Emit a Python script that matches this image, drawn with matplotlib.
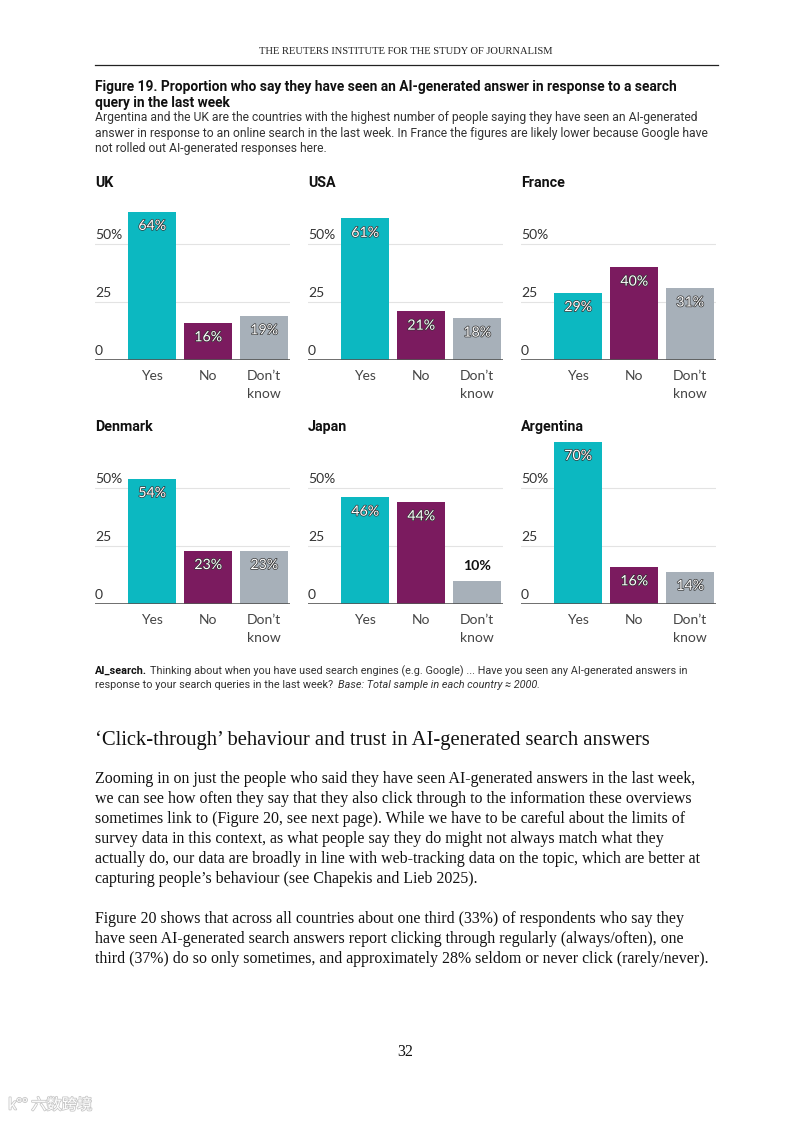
"""Figure 19 page: seen AI-generated answers in search, by country."""

import matplotlib
matplotlib.use('Agg')
import matplotlib.pyplot as plt  # noqa: E402
import matplotlib.patheffects as pe  # noqa: E402

# ----------------------------------------------------------------------------
# Data

countries = ['UK', 'USA', 'France', 'Denmark', 'Japan', 'Argentina']
answers = ['Yes', 'No', 'Don\u2019t\nknow']
yes = [64, 61, 29, 54, 46, 70]
no = [16, 21, 40, 23, 44, 16]
dont_know = [19, 18, 31, 23, 10, 14]
y_ticks = [0, 25, 50]
y_tick_labels = ['0', '25', '50%']

colors = ['#0cb8c1', '#7b1b5f', '#a7b0b9']

W, H = 793, 1121
CHART = 'Lato'
NARROW = 'Roboto'
SERIF = 'Liberation Serif'


def fx(x):
    return x / W


def fy(y):
    return 1 - y / H


fig = plt.figure(figsize=(W / 100, H / 100), dpi=100)
renderer = fig.canvas.get_renderer()

# Page header
fig.text(fx(406), fy(51), 'THE REUTERS INSTITUTE FOR THE STUDY OF JOURNALISM',
         family=SERIF, fontsize=7.55, ha='center', va='center', color='#222')
fig.add_artist(plt.Line2D([fx(95), fx(718)], [fy(65), fy(65)],
                          color='#222', lw=0.9))

# Figure title and subtitle
fig.text(fx(95), fy(87), 'Figure 19. Proportion who say they have seen an '
         'AI-generated answer in response to a search',
         family=NARROW, fontsize=9.95, weight='bold', va='center', color='#111')
fig.text(fx(95), fy(103), 'query in the last week',
         family=NARROW, fontsize=9.95, weight='bold', va='center', color='#111')
subtitle = [
    'Argentina and the UK are the countries with the highest number of people '
    'saying they have seen an AI-generated',
    'answer in response to an online search in the last week. In France the '
    'figures are likely lower because Google have',
    'not rolled out AI-generated responses here.',
]
for i, line in enumerate(subtitle):
    fig.text(fx(95), fy(117.5 + i * 15.5), line, family=NARROW, fontsize=8.73,
             va='center', color='#333')

# ----------------------------------------------------------------------------
# Small multiples

lefts = [95, 308, 521]
baselines = [360, 604]
panel_w = 195
px_per_unit = 2.32
y_max = 72
x_lo, x_hi = -1.02, 2.46

for i, country in enumerate(countries):
    row, col = divmod(i, 3)
    left = lefts[col]
    base = baselines[row]
    height = y_max * px_per_unit
    ax = fig.add_axes([fx(left), fy(base), fx(panel_w), height / H])
    values = [yes[i], no[i], dont_know[i]]

    for t in y_ticks[1:]:
        ax.axhline(t, color='#e3e3e3', lw=0.8, zorder=0)
    ax.bar(range(3), values, width=0.86, color=colors, zorder=2)
    ax.axhline(0, color='#555', lw=1.2, zorder=3)

    for t, lab in zip(y_ticks, y_tick_labels):
        ax.text(x_lo, t + 1.2, lab, family=CHART, fontsize=10, color='#333',
                ha='left', va='bottom')

    for x, v in enumerate(values):
        if v < 12:
            ax.text(x, v + 6.5, f'{v}%', family=CHART, fontsize=10.2,
                    weight='bold', color='#111', ha='center', va='center')
        else:
            txt = ax.text(x, v - 6.2, f'{v}%', family=CHART, fontsize=10.2,
                          color='white', ha='center', va='center', zorder=4)
            txt.set_path_effects([pe.withStroke(linewidth=1.0,
                                                foreground='#333')])

    ax.set_xlim(x_lo, x_hi)
    ax.set_ylim(0, y_max)
    ax.set_xticks(range(3))
    ax.set_xticklabels(answers, family=CHART, fontsize=10, color='#444',
                       linespacing=1.62)
    ax.tick_params(axis='x', length=0, pad=7)
    ax.set_yticks([])
    for s in ax.spines.values():
        s.set_visible(False)
    ax.patch.set_alpha(0)

    fig.text(fx(left), fy(base - 177), country, family=NARROW, fontsize=10.3,
             weight='bold', va='center', color='#111')

# ----------------------------------------------------------------------------
# Footnote and body text

note_size = 7.8
lead = fig.text(fx(95), fy(671), 'AI_search.', family=NARROW,
                fontsize=note_size, weight='bold', va='center', color='#111')
lead_end = lead.get_window_extent(renderer).x1
fig.text(lead_end / W + fx(3), fy(671), 'Thinking about when you have used '
         'search engines (e.g. Google) ... Have you seen any AI-generated '
         'answers in', family=NARROW, fontsize=note_size, va='center',
         color='#333')
second = fig.text(fx(95), fy(685), 'response to your search queries in the '
                  'last week?', family=NARROW, fontsize=note_size,
                  va='center', color='#333')
second_end = second.get_window_extent(renderer).x1
fig.text(second_end / W + fx(5), fy(685), 'Base: Total sample in each country '
         '\u2248 2000.', family=NARROW, fontsize=note_size, style='italic',
         va='center', color='#333')

fig.text(fx(95), fy(740), '\u2018Click-through\u2019 behaviour and trust in '
         'AI-generated search answers', family=SERIF, fontsize=14.9,
         va='center', color='#111')

body = [
    'Zooming in on just the people who said they have seen AI-generated '
    'answers in the last week,',
    'we can see how often they say that they also click through to the '
    'information these overviews',
    'sometimes link to (Figure 20, see next page). While we have to be careful '
    'about the limits of',
    'survey data in this context, as what people say they do might not always '
    'match what they',
    'actually do, our data are broadly in line with web-tracking data on the '
    'topic, which are better at',
    'capturing people\u2019s behaviour (see Chapekis and Lieb 2025).',
    None,
    'Figure 20 shows that across all countries about one third (33%) of '
    'respondents who say they',
    'have seen AI-generated search answers report clicking through regularly '
    '(always/often), one',
    'third (37%) do so only sometimes, and approximately 28% seldom or never '
    'click (rarely/never).',
]
for i, line in enumerate(body):
    if line:
        fig.text(fx(95), fy(779 + i * 20), line, family=SERIF, fontsize=11.48,
                 va='center', color='#111')

fig.text(fx(405), fy(1052), '32', family=SERIF, fontsize=11.5, ha='center',
         va='center', color='#111')

# Faint watermark, bottom left
mark = fig.text(fx(8), fy(1105), 'k\u00b0\u00b0 \u516d\u6570\u8de8\u5883',
                family=['Noto Sans CJK SC', 'DejaVu Sans'], fontsize=11,
                va='center', color='white')
mark.set_path_effects([pe.withStroke(linewidth=1.2, foreground='#c8c8c8')])

fig.savefig('out.png', dpi=100)
